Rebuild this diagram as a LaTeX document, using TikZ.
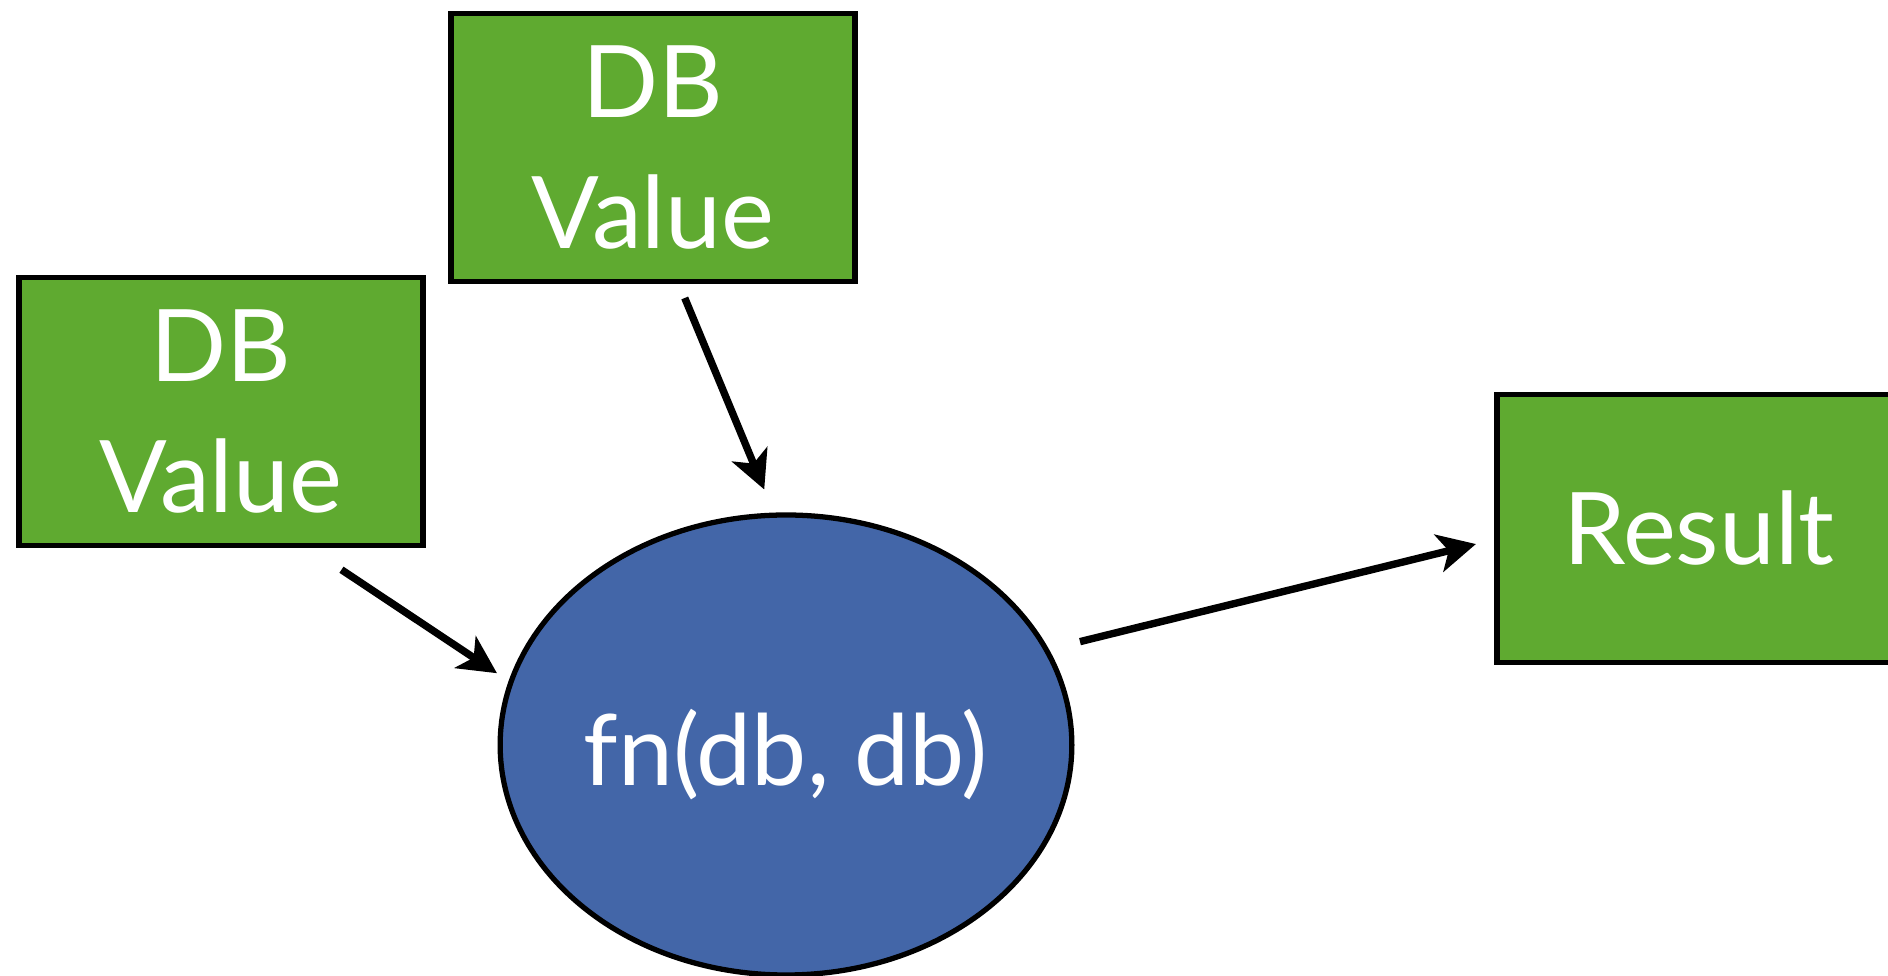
\documentclass[tikz,border=0pt]{standalone}
\usepackage{fontspec}
\setmainfont{Lato}
\usetikzlibrary{positioning,shapes,arrows.meta,calc}

\definecolor{dbgreen}{RGB}{95,170,48}
\definecolor{fnblue}{RGB}{67,102,168}

\begin{document}
\begin{tikzpicture}[
  dbnode/.style={rectangle,draw,line width=1.5pt,fill=dbgreen,text=white,inner sep=0pt,minimum width=4.04cm,minimum height=2.68cm,align=center,font=\fontsize{28.5}{37.5}\selectfont},
  fnnode/.style={ellipse,draw,line width=1.5pt,fill=fnblue,text=white,inner sep=0pt,minimum width=5.7cm,minimum height=4.6cm,font=\fontsize{28}{36}\selectfont},
  arr/.style={-{Stealth[length=0.38cm,width=0.38cm,inset=0.1cm]},line width=2.1pt},
]
\useasboundingbox (0,0) rectangle (18.88,9.76);

% === input values ===
\node[dbnode] (dbtop) at (6.53,8.285) {DB\\Value};
\node[dbnode] (dbleft) at (2.21,5.645) {DB\\Value};

% === function ===
\node[fnnode] (fn) at (7.86,2.31) {\raisebox{-0.1cm}[\height][\depth]{fn(db, db)}};

% === output ===
\node[dbnode] (res) at (16.99,4.475) {Result};

% Arrows
\draw[arr,shorten <=0.39cm,shorten >=0.14cm] ([xshift=0.88cm]dbleft.south) -- (fn.167);
\draw[arr,shorten <=0.15cm,shorten >=0.25cm] ([xshift=0.26cm]dbtop.south) -- (fn.93);
\draw[arr,shorten <=0.32cm,shorten >=0.19cm] (fn.20) -- ([yshift=-0.11cm]res.west);

\end{tikzpicture}
\end{document}
